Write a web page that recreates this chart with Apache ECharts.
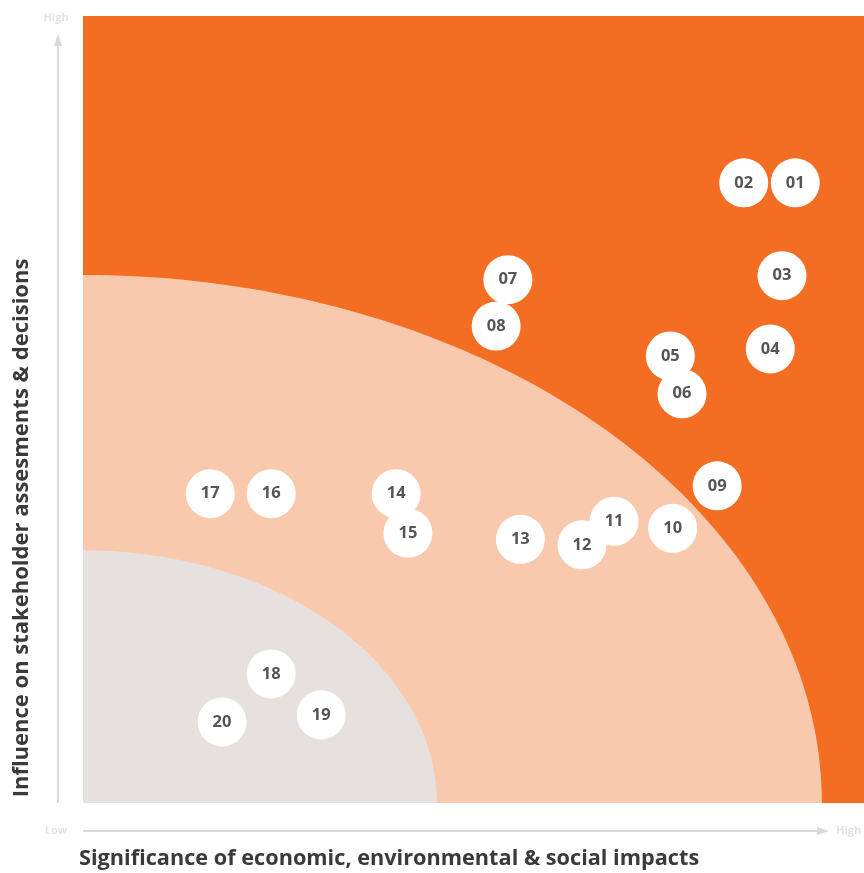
<!DOCTYPE html>
<html><head><meta charset="utf-8">
<script src="https://cdn.jsdelivr.net/npm/echarts@6/dist/echarts.min.js"></script>
<style>html,body{margin:0;padding:0;background:#fff}#c{width:864px;height:873px}</style>
</head><body><div id="c"></div>
<script>
// Topic labels
const topics = ['01','02','03','04','05','06','07','08','09','10','11','12','13','14','15','16','17','18','19','20'];
// Significance of impacts (x, 0-100)
const significance = [91.2,84.6,89.5,88.0,75.2,76.7,54.4,52.9,81.2,75.5,68.0,63.9,56.0,40.1,41.6,24.1,16.3,24.1,30.5,17.8];
// Influence on stakeholders (y, 0-100)
const influence = [78.8,78.8,67.0,57.7,56.8,52.0,66.5,60.6,40.3,34.9,35.8,32.8,33.5,39.3,34.3,39.3,39.3,16.4,11.2,10.3];
// Zone boundaries (quarter ellipses from origin): [radiusX, radiusY]
const zoneNames = ['medium','low'];
const zoneRadiusX = [94.6, 45.3];
const zoneRadiusY = [67.1, 32.1];
const zoneColors = ['#f9c9ae','#e6e1de'];

const chart = echarts.init(document.getElementById('c'));
const FONT = '"Open Sans", "DejaVu Sans", sans-serif';

chart.setOption({
  animation: false,
  grid: {left: 83, right: 0, top: 16, bottom: 70, show: true, backgroundColor: '#f36e23', borderWidth: 0},
  xAxis: {type: 'value', min: 0, max: 100, show: false},
  yAxis: {type: 'value', min: 0, max: 100, show: false},
  series: [
    {
      type: 'custom',
      silent: true,
      data: zoneNames.map((n, i) => [zoneRadiusX[i], zoneRadiusY[i], i]),
      renderItem: function (params, api) {
        const rx = api.value(0), ry = api.value(1), idx = api.value(2);
        const o = api.coord([0, 0]);
        const ex = api.coord([rx, 0]);
        const ey = api.coord([0, ry]);
        const a = ex[0] - o[0], b = o[1] - ey[1];
        const pts = [[o[0], o[1]]];
        for (let k = 0; k <= 90; k++) {
          const t = k / 90 * Math.PI / 2;
          pts.push([o[0] + a * Math.cos(t), o[1] - b * Math.sin(t)]);
        }
        return {type: 'polygon', shape: {points: pts}, style: {fill: zoneColors[idx]}, z2: idx};
      },
      z: 1
    },
    {
      type: 'scatter',
      data: topics.map((t, i) => ({name: t, value: [significance[i], influence[i]]})),
      symbol: 'circle',
      symbolSize: 49,
      itemStyle: {color: '#ffffff', opacity: 1},
      label: {show: true, position: 'inside', formatter: p => p.name, color: '#555555', fontSize: 16.5, fontWeight: 'bold', fontFamily: FONT},
      z: 5
    }
  ],
  graphic: [
    {type: 'line', shape: {x1: 58, y1: 803, x2: 58, y2: 40}, style: {stroke: '#d9d9d9', lineWidth: 2}},
    {type: 'polygon', shape: {points: [[58, 34], [54, 46], [62, 46]]}, style: {fill: '#d9d9d9'}},
    {type: 'line', shape: {x1: 83, y1: 831, x2: 820, y2: 831}, style: {stroke: '#d9d9d9', lineWidth: 2}},
    {type: 'polygon', shape: {points: [[829, 831], [817, 827], [817, 835]]}, style: {fill: '#d9d9d9'}},
    {type: 'text', x: 56, y: 18, style: {text: 'High', fill: '#e3e3e3', font: 'bold 11px ' + FONT, textAlign: 'center', textVerticalAlign: 'middle'}},
    {type: 'text', x: 56, y: 831, style: {text: 'Low', fill: '#e3e3e3', font: 'bold 11px ' + FONT, textAlign: 'center', textVerticalAlign: 'middle'}},
    {type: 'text', x: 836, y: 831, style: {text: 'High', fill: '#e3e3e3', font: 'bold 11px ' + FONT, textAlign: 'left', textVerticalAlign: 'middle'}},
    {type: 'text', x: 79, y: 859, style: {text: 'Significance of economic, environmental & social impacts', fill: '#3a3a3a', font: 'bold 21.7px ' + FONT, textAlign: 'left', textVerticalAlign: 'middle'}},
    {type: 'text', x: 22, y: 528, rotation: Math.PI / 2, style: {text: 'Influence on stakeholder assesments & decisions', fill: '#3a3a3a', font: 'bold 22px ' + FONT, textAlign: 'center', textVerticalAlign: 'middle'}}
  ]
});
</script></body></html>
